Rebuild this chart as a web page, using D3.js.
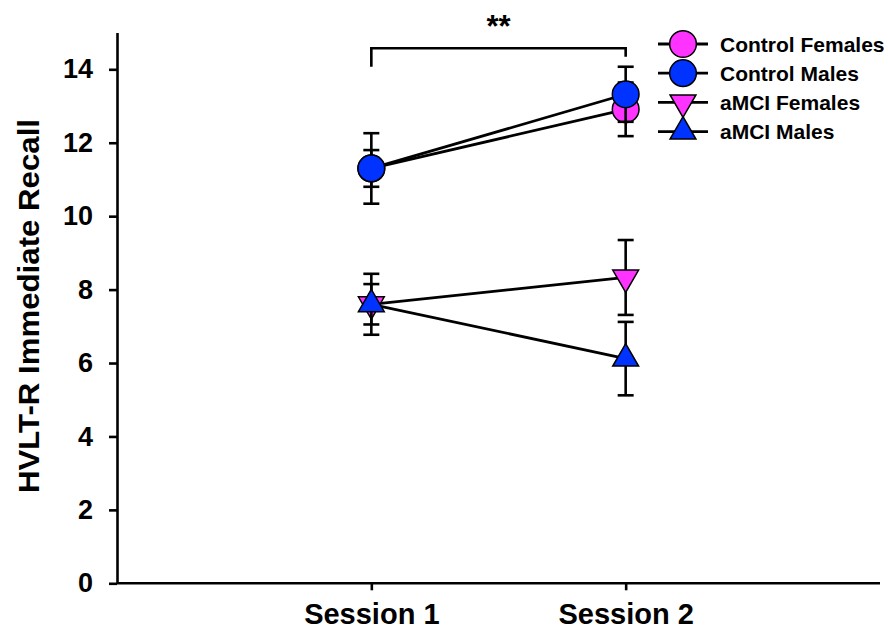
<!DOCTYPE html>
<html><head><meta charset="utf-8">
<script src="https://cdn.jsdelivr.net/npm/d3@7"></script>
<style>body{margin:0;background:#fff}svg{display:block}text{font-family:"Liberation Sans",Arial,sans-serif;font-weight:bold;fill:#000}</style>
</head><body>
<script>
const sessions = ["Session 1", "Session 2"];
const yTicks = [0, 2, 4, 6, 8, 10, 12, 14];
const seriesNames = ["Control Females", "Control Males", "aMCI Females", "aMCI Males"];
const controlFemales = [11.3, 12.91];
const controlFemalesErr = [0.5, 0.73];
const controlMales = [11.3, 13.32];
const controlMalesErr = [0.96, 0.75];
const aMCIFemales = [7.6, 8.33];
const aMCIFemalesErr = [0.55, 1.02];
const aMCIMales = [7.6, 6.12];
const aMCIMalesErr = [0.83, 1.0];
const sigLabel = "**";

const W = 888, H = 639;
const svg = d3.select("body").append("svg").attr("width", W).attr("height", H);
const x = d3.scalePoint().domain(sessions).range([117, 880]).padding(1);
const y = d3.scaleLinear().domain([0, 15]).range([583.3, 32.6]);

const series = [
  {name: seriesNames[0], vals: controlFemales, err: controlFemalesErr, color: "#ff33ff", sym: "circle"},
  {name: seriesNames[1], vals: controlMales, err: controlMalesErr, color: "#0033ff", sym: "circle"},
  {name: seriesNames[2], vals: aMCIFemales, err: aMCIFemalesErr, color: "#ff33ff", sym: "down"},
  {name: seriesNames[3], vals: aMCIMales, err: aMCIMalesErr, color: "#0033ff", sym: "up"}
];
const circleSym = d3.symbol(d3.symbolCircle, 560);
const triSym = d3.symbol(d3.symbolTriangle, 290);
function drawSymbol(g, s, cx, cy) {
  const p = g.append("path")
    .attr("d", s.sym === "circle" ? circleSym() : triSym())
    .attr("fill", s.color).attr("stroke", "#000").attr("stroke-width", 1.5);
  p.attr("transform", `translate(${cx},${cy})` + (s.sym === "down" ? " rotate(180)" : ""));
}

// axes
const yAxis = svg.append("g").attr("transform", "translate(117,0)")
  .call(d3.axisLeft(y).tickValues(yTicks).tickSize(8).tickSizeOuter(0).tickPadding(16));
const xAxis = svg.append("g").attr("transform", "translate(0,583.3)")
  .call(d3.axisBottom(x).tickSize(7).tickSizeOuter(0).tickPadding(13));
[yAxis, xAxis].forEach(a => {
  a.select(".domain").attr("stroke", "#000").attr("stroke-width", 2.6);
  a.selectAll(".tick line").attr("stroke", "#000").attr("stroke-width", 2.6);
});
xAxis.select(".domain").attr("d", "M117,0H880");
yAxis.selectAll(".tick text").attr("font-size", 27).attr("font-family", "Liberation Sans, Arial, sans-serif").attr("font-weight", "bold");
xAxis.selectAll(".tick text").attr("font-size", 29).attr("font-family", "Liberation Sans, Arial, sans-serif").attr("font-weight", "bold");

svg.append("text").attr("transform", "translate(39,306) rotate(-90)")
  .attr("text-anchor", "middle").attr("font-size", 29)
  .attr("textLength", 374).attr("lengthAdjust", "spacingAndGlyphs")
  .text("HVLT-R Immediate Recall");

// data
const plot = svg.append("g");
series.forEach(s => {
  const g = plot.append("g");
  g.append("path").datum(sessions.map((d, i) => [x(d), y(s.vals[i])]))
    .attr("d", d3.line()).attr("fill", "none").attr("stroke", "#000").attr("stroke-width", 2.8);
  sessions.forEach((d, i) => {
    const cx = x(d), top = y(s.vals[i] + s.err[i]), bot = y(s.vals[i] - s.err[i]);
    g.append("line").attr("x1", cx).attr("x2", cx).attr("y1", top).attr("y2", bot)
      .attr("stroke", "#000").attr("stroke-width", 2.6);
    [top, bot].forEach(yy => g.append("line").attr("x1", cx - 8).attr("x2", cx + 8)
      .attr("y1", yy).attr("y2", yy).attr("stroke", "#000").attr("stroke-width", 2.6));
  });
  sessions.forEach((d, i) => drawSymbol(g, s, x(d), y(s.vals[i])));
});

// significance bracket
const bx1 = x(sessions[0]), bx2 = x(sessions[1]);
svg.append("path").attr("d", `M${bx1},66.7V48.3H${bx2}V56.7`)
  .attr("fill", "none").attr("stroke", "#000").attr("stroke-width", 2.6);
svg.append("text").attr("x", (bx1 + bx2) / 2).attr("y", 37).attr("text-anchor", "middle")
  .attr("font-size", 31).text(sigLabel);

// legend
const leg = svg.append("g");
series.forEach((s, i) => {
  const ly = 44 + i * 29.2;
  leg.append("line").attr("x1", 658).attr("x2", 708).attr("y1", ly).attr("y2", ly)
    .attr("stroke", "#000").attr("stroke-width", 2.8);
  drawSymbol(leg, s, 683, ly);
  leg.append("text").attr("x", 720).attr("y", ly + 7.5).attr("font-size", 21).text(s.name);
});
</script>
</body></html>
